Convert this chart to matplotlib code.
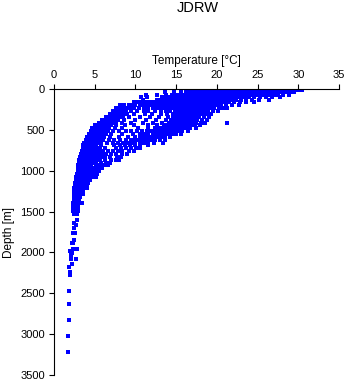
import matplotlib
matplotlib.use("Agg")
import matplotlib.pyplot as plt

plt.rcParams['font.family'] = ['Liberation Sans', 'DejaVu Sans']

row_depths = [10, 40, 70, 100, 130, 165, 200, 235, 270, 305, 340, 375, 410, 445,
              480, 515, 550, 585, 620, 655, 690, 725, 760, 795, 830, 865, 900,
              935, 970, 1005, 1040, 1075, 1110, 1145, 1180, 1215, 1250, 1285,
              1320, 1355, 1390, 1425, 1460, 1495, 1530]
row_temps = [
    [17.0, 17.8, 18.4, 18.8, 19.2, 19.6, 20.0, 20.4, 20.8, 21.2, 21.6, 22.0, 22.4, 22.8, 23.2, 23.6, 24.0,
     24.4, 24.8, 25.2, 25.6, 26.0, 26.4, 26.8, 27.2, 27.6, 28.0, 28.4, 28.8, 29.2, 29.6, 30.0, 30.4],
    [13.6, 14.7, 15.6, 16.2, 16.6, 17.0, 17.4, 17.8, 18.2, 18.6, 19.0, 19.4, 19.8, 20.2, 20.6, 21.0, 21.4,
     21.8, 22.2, 22.6, 23.0, 23.4, 23.8, 24.2, 24.6, 25.0, 25.4, 25.8, 26.2, 26.6, 27.0, 27.4, 27.8, 28.2,
     28.6, 29.0, 29.5],
    [11.3, 12.6, 13.7, 14.5, 15.0, 15.4, 15.8, 16.2, 16.6, 17.0, 17.4, 17.8, 18.2, 18.6, 19.0, 19.4, 19.8,
     20.2, 20.6, 21.0, 21.4, 21.8, 22.2, 22.6, 23.0, 23.4, 23.8, 24.2, 24.6, 25.0, 25.4, 25.8, 26.2, 26.6,
     27.0, 27.5, 28.1, 28.8],
    [10.7, 11.4, 13.3, 13.8, 14.2, 14.6, 15.0, 15.4, 15.8, 16.2, 16.6, 17.0, 17.4, 17.8, 18.2, 18.6, 19.0,
     19.4, 19.8, 20.2, 20.6, 21.0, 21.4, 21.8, 22.2, 22.6, 23.0, 23.5, 24.0, 24.6, 25.3, 26.0, 26.8, 27.8],
    [10.9, 12.6, 13.0, 13.5, 13.9, 14.3, 14.7, 15.1, 15.5, 15.9, 16.3, 16.7, 17.1, 17.5, 17.9, 18.3, 18.7,
     19.1, 19.5, 19.9, 20.3, 20.7, 21.1, 21.5, 21.9, 22.4, 23.0, 23.6, 24.3, 25.2, 26.4],
    [9.8, 10.3, 10.8, 11.3, 11.8, 12.2, 12.6, 13.0, 13.4, 13.8, 14.2, 14.6, 15.0, 15.4, 15.8, 16.2, 16.6,
     17.0, 17.4, 17.8, 18.2, 18.6, 19.0, 19.4, 19.8, 20.2, 20.6, 21.0, 21.5, 22.1, 22.8, 23.6, 24.5],
    [8.1, 8.6, 9.2, 9.6, 10.0, 10.5, 11.0, 11.4, 11.8, 12.3, 12.8, 13.2, 13.6, 14.0, 14.4, 14.8, 15.2,
     15.6, 16.0, 16.4, 16.8, 17.2, 17.6, 18.0, 18.4, 18.8, 19.2, 19.6, 20.0, 20.5, 21.1, 21.8, 22.7],
    [7.6, 8.0, 8.4, 8.8, 9.3, 9.8, 10.4, 11.0, 11.5, 12.1, 12.6, 13.0, 13.5, 14.0, 14.4, 14.8, 15.2, 15.6,
     16.0, 16.4, 16.8, 17.2, 17.6, 18.0, 18.4, 18.8, 19.2, 19.7, 20.3, 20.8, 21.3],
    [7.3, 7.7, 8.1, 8.5, 8.9, 9.4, 10.2, 11.0, 11.6, 12.4, 13.2, 13.8, 14.3, 14.8, 15.2, 15.6, 16.0, 16.4,
     16.8, 17.2, 17.6, 18.0, 18.4, 18.9, 19.5, 20.1],
    [6.9, 7.3, 7.7, 8.1, 8.5, 9.0, 9.8, 11.2, 12.0, 13.1, 13.9, 14.6, 15.1, 15.5, 15.9, 16.3, 16.7, 17.1,
     17.5, 17.9, 18.3, 18.8, 19.3],
    [6.4, 6.8, 7.2, 7.6, 8.0, 8.5, 9.2, 10.6, 11.8, 12.9, 14.0, 14.6, 15.0, 15.4, 15.8, 16.2, 16.6, 17.0,
     17.4, 17.8, 18.4, 19.0],
    [5.9, 6.3, 6.7, 7.1, 7.5, 7.9, 8.6, 9.9, 11.3, 12.5, 13.7, 14.4, 14.8, 15.2, 15.6, 16.0, 16.4, 16.8,
     17.2, 17.6, 18.2, 18.8],
    [5.5, 5.9, 6.3, 6.7, 7.1, 7.6, 8.4, 9.5, 10.9, 12.2, 13.3, 14.1, 14.6, 15.0, 15.4, 15.8, 16.2, 16.6,
     17.0, 17.4, 18.0, 18.6, 21.2],
    [5.0, 5.4, 5.8, 6.2, 6.6, 7.0, 7.6, 8.7, 9.8, 11.5, 12.6, 13.5, 14.0, 14.4, 14.8, 15.2, 15.6, 16.0,
     16.4, 16.8, 17.3, 17.9],
    [4.7, 5.1, 5.5, 5.9, 6.3, 6.8, 7.5, 8.4, 10.3, 11.6, 12.4, 12.9, 13.4, 13.8, 14.2, 14.6, 15.0, 15.4,
     15.8, 16.2, 16.7, 17.4],
    [4.5, 4.9, 5.3, 5.7, 6.1, 6.6, 7.3, 8.0, 8.8, 9.5, 10.2, 10.8, 11.4, 11.9, 12.4, 12.8, 13.2, 13.6,
     14.0, 14.4, 14.8, 15.2, 15.7, 16.4],
    [4.3, 4.7, 5.1, 5.5, 5.9, 6.4, 7.0, 8.3, 9.7, 10.5, 11.1, 11.6, 12.1, 12.5, 12.9, 13.3, 13.7, 14.1,
     14.5, 15.0, 15.6],
    [4.1, 4.5, 4.9, 5.3, 5.7, 6.2, 6.9, 8.0, 9.1, 10.0, 10.6, 11.1, 11.6, 12.0, 12.4, 12.8, 13.2, 13.6, 14.2],
    [3.9, 4.3, 4.7, 5.1, 5.5, 6.0, 6.7, 7.4, 8.1, 8.8, 9.4, 9.9, 10.4, 10.9, 11.4, 11.9, 12.4, 13.0, 13.6],
    [3.7, 4.1, 4.5, 4.9, 5.3, 5.8, 6.5, 7.2, 7.9, 8.5, 9.0, 9.5, 10.0, 10.5, 11.0, 11.6, 12.3, 13.4],
    [3.6, 4.0, 4.4, 4.8, 5.2, 5.8, 7.4, 8.1, 8.7, 9.3, 9.9, 10.6, 11.5],
    [3.5, 3.9, 4.3, 4.7, 5.1, 5.6, 6.3, 7.6, 8.2, 8.8, 9.4, 10.1, 10.6],
    [3.4, 3.8, 4.2, 4.6, 5.0, 5.5, 6.0, 6.6, 7.2, 7.8, 8.4, 9.2, 9.8],
    [3.3, 3.7, 4.1, 4.5, 4.9, 5.4, 5.9, 6.4, 7.0, 7.6, 8.4, 9.0],
    [3.2, 3.6, 4.0, 4.4, 4.8, 5.3, 5.8, 6.3, 6.9, 7.7, 8.2],
    [3.1, 3.5, 3.9, 4.3, 4.7, 5.2, 5.7, 6.3, 7.0, 7.6, 8.0],
    [3.1, 3.5, 3.9, 4.3, 4.7, 5.2, 5.8, 6.4, 6.9],
    [3.0, 3.4, 3.8, 4.2, 4.6, 5.1, 5.7, 6.2, 6.6],
    [2.9, 3.3, 3.7, 4.1, 4.5, 5.0, 5.5, 5.9],
    [2.9, 3.3, 3.7, 4.1, 4.5, 5.0, 5.5],
    [2.8, 3.2, 3.6, 4.0, 4.4, 4.9, 5.3],
    [2.7, 3.1, 3.5, 3.9, 4.3, 4.8, 5.2],
    [2.7, 3.1, 3.5, 3.9, 4.4],
    [2.6, 3.0, 3.4, 3.8, 4.2],
    [2.6, 3.0, 3.4, 3.8, 4.1],
    [2.5, 2.9, 3.3, 3.7, 4.0],
    [2.5, 2.9, 3.3, 3.6],
    [2.4, 2.8, 3.2, 3.5],
    [2.4, 2.8, 3.2],
    [2.4, 2.8, 3.1],
    [2.3, 2.7, 3.1, 3.4],
    [2.3, 2.7, 3.0],
    [2.3, 2.7, 3.0],
    [2.3, 2.6, 2.9],
    [2.5, 2.8],
]

# isolated deep samples
deep_temps = [2.8, 2.5, 2.7, 2.5, 2.3, 2.6, 2.4, 2.2, 2.3, 2.8, 2.3, 2.0, 2.2, 2.1, 2.1, 2.7,
              2.2, 1.9, 2.0, 2.0, 1.9, 1.8, 1.8, 1.7, 1.7]
deep_depths = [1603, 1644, 1665, 1705, 1766, 1766, 1848, 1880, 1889, 1962, 1958, 1979, 2003, 2032,
               2077, 2085, 2146, 2183, 2240, 2281, 2477, 2636, 2828, 3023, 3215]

temps = []
depths = []
for d, row in zip(row_depths, row_temps):
    for t in row:
        temps.append(t)
        depths.append(d)
temps += deep_temps
depths += deep_depths

fig = plt.figure(figsize=(3.48, 3.84), dpi=100)
ax = fig.add_axes([54 / 348, 1 - 375 / 384, 285 / 348, 286 / 384])

ax.plot(temps, depths, linestyle='none', marker='s', markersize=2.5,
        markeredgewidth=0, color='#0000ff')

ax.set_xlim(0, 35)
ax.set_ylim(3500, 0)
ax.set_xticks([0, 5, 10, 15, 20, 25, 30, 35])
ax.set_yticks([0, 500, 1000, 1500, 2000, 2500, 3000, 3500])

ax.xaxis.tick_top()
ax.xaxis.set_label_position('top')
ax.spines['right'].set_visible(False)
ax.spines['bottom'].set_visible(False)
for s in ['top', 'left']:
    ax.spines[s].set_linewidth(0.8)
ax.tick_params(direction='out', length=3.6, width=0.8, labelsize=8, pad=3)

ax.set_xlabel('Temperature [°C]', fontsize=8.5, labelpad=4)
ax.set_ylabel('Depth [m]', fontsize=8.5, labelpad=4)
fig.text(198 / 348, 1 - 8 / 384, 'JDRW', ha='center', va='center', fontsize=10.5)

fig.savefig('out.png', dpi=100)
